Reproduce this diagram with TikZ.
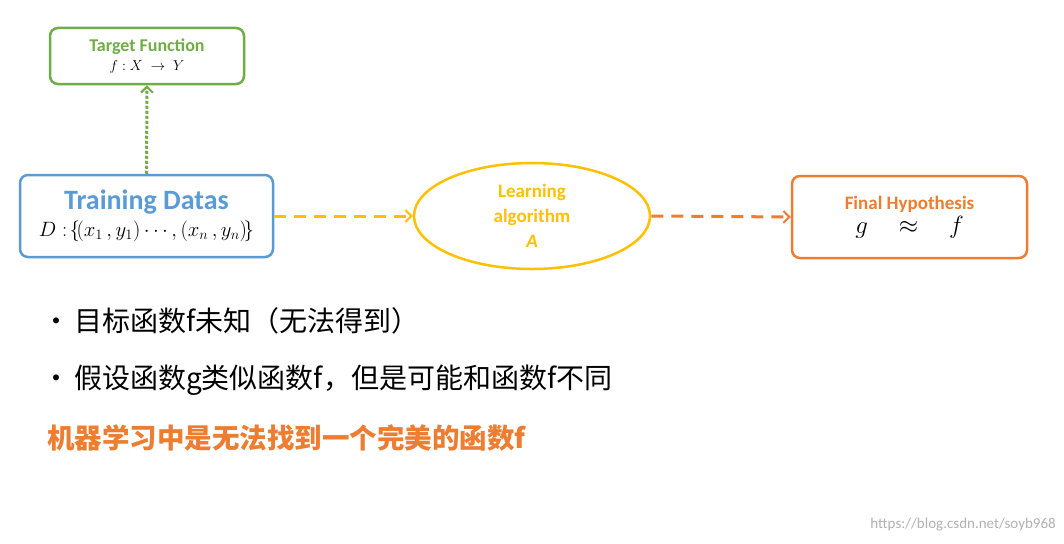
\documentclass[tikz,border=0pt]{standalone}
\usepackage{fontspec}
\setmainfont{Carlito}
\newfontfamily\cjk{Noto Sans CJK SC}
\usetikzlibrary{shapes.geometric,arrows.meta}
\definecolor{cg}{RGB}{112,173,71}
\definecolor{cb}{RGB}{91,155,213}
\definecolor{cy}{RGB}{255,192,0}
\definecolor{co}{RGB}{237,125,49}
\begin{document}
\begin{tikzpicture}[x=1pt,y=-1pt,
  box/.style={draw,line width=2.5pt,rounded corners=8pt,fill=white},
  arr/.style={line width=3pt,-{Straight Barb[length=6pt,width=12pt,line width=2pt]}}]
\useasboundingbox (0,0) rectangle (1064,543);
\fill[white] (0,0) rectangle (1064,543);
\node[box,draw=cg,minimum width=194pt,minimum height=56pt,align=center,inner sep=0pt,
  font=\fontsize{18}{20}\selectfont\bfseries,text=cg] (t) at (147,56)
 {Target Function\\[-1pt]{\color{black}\fontsize{15}{17}\selectfont$f : X \;\to\; Y$}};
\node[box,draw=cb,minimum width=253pt,minimum height=82pt,align=center,inner sep=0pt,
  font=\fontsize{28}{29}\selectfont\bfseries,text=cb] (d) at (146.5,216)
 {Training Datas\\[-2pt]{\color{black}\fontsize{21}{23}\selectfont$D :\!\left\{\!\left(x_1\,, y_1\right)\cdots,\left(x_n\,, y_n\right)\!\right\}$}};
\node[ellipse,draw=cy,line width=2.5pt,minimum width=236pt,minimum height=106pt,align=center,inner sep=0pt,
  font=\fontsize{19}{25}\selectfont\bfseries,text=cy] (a) at (532,216)
 {Learning\\algorithm\\\itshape A};
\node[box,draw=co,minimum width=235pt,minimum height=82pt,align=center,inner sep=0pt,
  font=\fontsize{19}{24}\selectfont\bfseries,text=co] (h) at (909.5,217)
 {Final Hypothesis\\{\color{black}\fontsize{24}{26}\selectfont$g \quad\approx\quad f$}};
\draw[arr,cg,dotted] (d.north) -- (t.south);
\draw[arr,cy,dash pattern=on 12pt off 8pt] (d.east) -- (a.west);
\draw[arr,co,dash pattern=on 12pt off 8pt] (a.east) -- (h.west);
\node[anchor=west,inner sep=0pt,font=\fontsize{28}{30}\selectfont\cjk] (b1) at (42,321) {•\hspace{4pt}目标函数f未知（无法得到）};
\node[anchor=west,inner sep=0pt,font=\fontsize{28}{30}\selectfont\cjk] (b2) at (42,380) {•\hspace{4pt}假设函数g类似函数f，但是可能和函数f不同};
\node[anchor=west,inner sep=0pt,text=co,font=\fontsize{27.5}{30}\selectfont\cjk\bfseries] (b3) at (47,438) {机器学习中是无法找到一个完美的函数f};
\node[anchor=east,inner sep=0pt,text=gray!60,font=\fontsize{15}{16}\selectfont] (w) at (1056,525) {https://blog.csdn.net/soyb968};
\end{tikzpicture}
\end{document}
